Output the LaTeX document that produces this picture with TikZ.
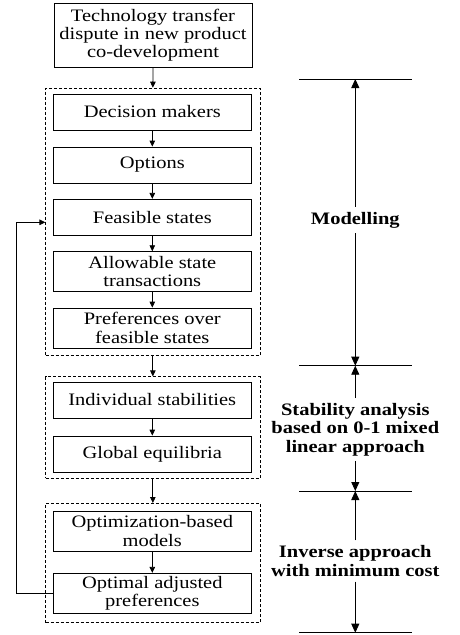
\documentclass[tikz,border=0pt]{standalone}
\usepackage{fontspec}
\setmainfont{Liberation Serif}[FakeStretch=1.17]
\usetikzlibrary{arrows.meta}
\begin{document}
\begin{tikzpicture}[x=1pt,y=-1pt,
  box/.style={draw, line width=0.8pt, minimum width=198pt, align=center, inner sep=0pt,
    font=\fontsize{17.5}{18.3}\selectfont},
  grp/.style={draw, line width=0.6pt, dash pattern=on 3pt off 2pt, minimum width=214.3pt, inner sep=0pt},
  arr/.style={-{Triangle[length=6pt,width=5.5pt]}, line width=0.8pt},
  bigarr/.style={-{Triangle[length=9pt,width=8pt]}, line width=0.9pt},
  lab/.style={font=\bfseries\fontsize{17.5}{18.3}\selectfont, align=center, inner xsep=0pt, inner ysep=5pt},
  tick/.style={line width=0.8pt}]
\useasboundingbox (0,0) rectangle (460,635);

% groups
\node[grp, minimum height=267.7pt] (g1) at (152.85,221.85) {};
\node[grp, minimum height=101.6pt] (g2) at (152.85,427.5) {};
\node[grp, minimum height=119.4pt] (g3) at (152.85,563) {};

% boxes
\node[box, minimum height=64pt] (top) at (153,35) {Technology transfer\\dispute in new product\\co-development};
\node[box, minimum height=36pt] (dm) at (152.3,112) {Decision makers};
\node[box, minimum height=36pt] (op) at (152.3,165) {Options};
\node[box, minimum height=36pt] (fs) at (152.3,217.3) {Feasible states};
\node[box, minimum height=40pt] (ast) at (152.3,271.7) {Allowable state\\transactions};
\node[box, minimum height=40pt] (pref) at (152.3,328) {Preferences over\\feasible states};
\node[box, minimum height=36pt] (is) at (152.3,400) {Individual stabilities};
\node[box, minimum height=36pt] (ge) at (152.3,454) {Global equilibria};
\node[box, minimum height=40pt] (om) at (152.3,531) {Optimization-based\\models};
\node[box, minimum height=40pt] (oap) at (152.3,593.3) {Optimal adjusted\\preferences};

% arrows
\draw[arr] (top.south) -- (g1.north);
\draw[arr] (dm) -- (op);
\draw[arr] (op) -- (fs);
\draw[arr] (fs) -- (ast);
\draw[arr] (ast) -- (pref);
\draw[arr] (g1) -- (g2);
\draw[arr] (is) -- (ge);
\draw[arr] (g2) -- (g3);
\draw[arr] (om) -- (oap);

% feedback
\coordinate (fb) at (16.7,222.3);
\draw[arr] (oap.west) -| (fb) -- (g1.west |- fb);

% right side ticks
\coordinate (t1l) at (299,79);    \coordinate (t1r) at (411.7,79);
\coordinate (t2l) at (299,365.7); \coordinate (t2r) at (411.7,365.7);
\coordinate (t3l) at (299,491);   \coordinate (t3r) at (411.7,491);
\coordinate (t4l) at (299,632.7); \coordinate (t4r) at (411.7,632.7);
\draw[tick] (t1l) -- (t1r);
\draw[tick] (t2l) -- (t2r);
\draw[tick] (t3l) -- (t3r);
\draw[tick] (t4l) -- (t4r);

\node[lab] (mod) at (355.3,220) {Modelling};
\node[lab] (stab) at (355.3,429.5) {Stability analysis\\based on 0-1 mixed\\linear approach};
\node[lab] (inv) at (355.3,561) {Inverse approach\\with minimum cost};

\draw[bigarr] (mod.north) -- (mod.north |- t1l);
\draw[bigarr] (mod.south) -- (mod.south |- t2l);
\draw[bigarr] (stab.north) -- (stab.north |- t2l);
\draw[bigarr] (stab.south) -- (stab.south |- t3l);
\draw[bigarr] (inv.north) -- (inv.north |- t3l);
\draw[bigarr] (inv.south) -- (inv.south |- t4l);
\end{tikzpicture}
\end{document}
